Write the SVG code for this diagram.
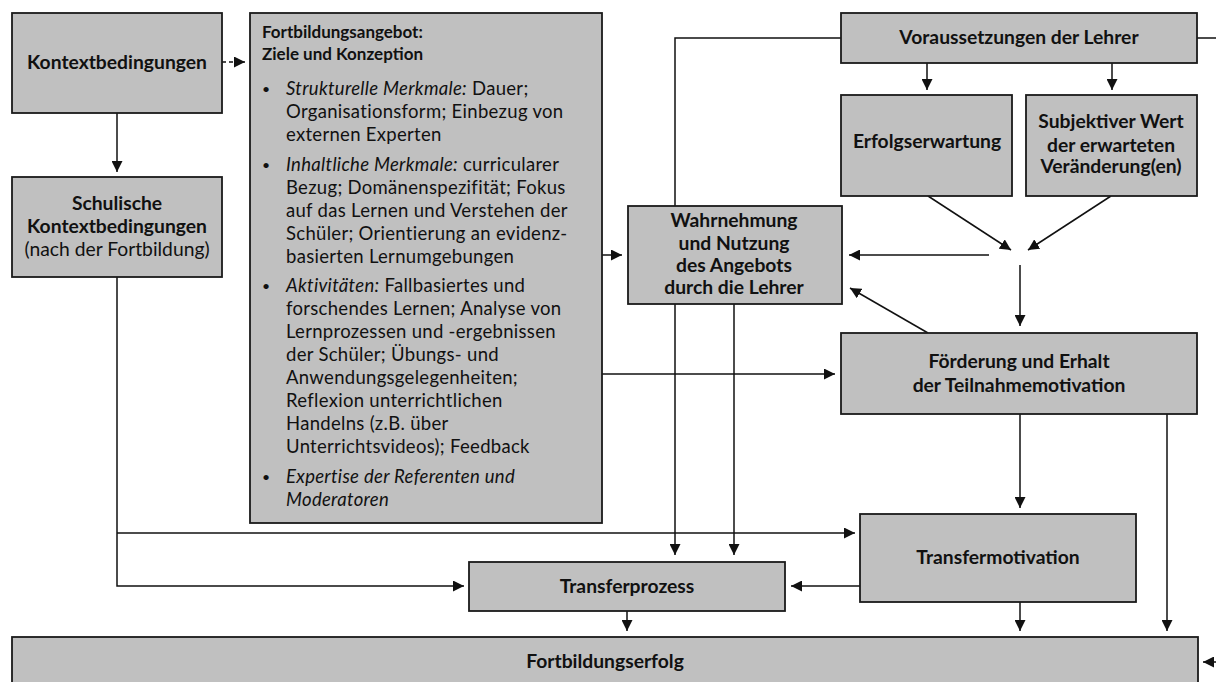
<svg xmlns="http://www.w3.org/2000/svg" width="1216" height="682" viewBox="0 0 1216 682">
<style>
.box{fill:#c0c0c0;stroke:#1a1a1a;stroke-width:1.8}
.lbl{font-family:Lato,"Liberation Sans",sans-serif;font-weight:bold;font-size:19.3px;fill:#111;text-anchor:middle}
.reg{font-weight:normal}
.body{font-family:Lato,"Liberation Sans",sans-serif;font-size:18.5px;letter-spacing:0.3px;fill:#111}
.ttl{font-weight:bold;font-size:17px;letter-spacing:0}
.it{font-style:italic}
.bul{font-size:14px}
.con{fill:none;stroke:#111;stroke-width:1.5}
</style>
<defs>
<marker id="ah" markerUnits="userSpaceOnUse" markerWidth="11" markerHeight="11" refX="10" refY="5" orient="auto" viewBox="0 0 10 10">
<path d="M0,0 L10,5 L0,10 z" fill="#111"/>
</marker>
</defs>
<g id="connectors">
<line class="con" x1="117" y1="113" x2="117" y2="172" marker-end="url(#ah)"/>
<line class="con" x1="222" y1="62" x2="245" y2="62" stroke-dasharray="4,3" marker-end="url(#ah)"/>
<polyline class="con" points="117,277 117,586 464,586" marker-end="url(#ah)"/>
<polyline class="con" points="117,533 855,533" marker-end="url(#ah)"/>
<line class="con" x1="602" y1="255" x2="622" y2="255" marker-end="url(#ah)"/>
<line class="con" x1="602" y1="374" x2="835" y2="374" marker-end="url(#ah)"/>
<polyline class="con" points="841,38 675,38 675,555" marker-end="url(#ah)"/>
<line class="con" x1="734" y1="304" x2="734" y2="555" marker-end="url(#ah)"/>
<line class="con" x1="927" y1="63" x2="927" y2="90" marker-end="url(#ah)"/>
<line class="con" x1="1112" y1="63" x2="1112" y2="90" marker-end="url(#ah)"/>
<line class="con" x1="928" y1="196" x2="1011" y2="250" marker-end="url(#ah)"/>
<line class="con" x1="1111" y1="196" x2="1028" y2="250" marker-end="url(#ah)"/>
<line class="con" x1="989" y1="255" x2="849" y2="255" marker-end="url(#ah)"/>
<line class="con" x1="1020" y1="265" x2="1020" y2="326" marker-end="url(#ah)"/>
<line class="con" x1="928" y1="333" x2="850" y2="288" marker-end="url(#ah)"/>
<line class="con" x1="1020" y1="414" x2="1020" y2="508" marker-end="url(#ah)"/>
<line class="con" x1="1167" y1="414" x2="1167" y2="631" marker-end="url(#ah)"/>
<line class="con" x1="860" y1="586" x2="791" y2="586" marker-end="url(#ah)"/>
<line class="con" x1="627" y1="611" x2="627" y2="631" marker-end="url(#ah)"/>
<line class="con" x1="1020" y1="602" x2="1020" y2="631" marker-end="url(#ah)"/>
<polyline class="con" points="1197,38 1224,38 1224,662 1203,662" marker-end="url(#ah)"/>
</g>
<g id="kontext">
<rect class="box" x="12" y="13" width="210" height="100"/>
<text class="lbl" x="117" y="68.5">Kontextbedingungen</text>
</g>
<g id="schulisch">
<rect class="box" x="12" y="177" width="210" height="100"/>
<text class="lbl" x="117" y="210">Schulische</text>
<text class="lbl" x="117" y="233">Kontextbedingungen</text>
<text class="lbl reg" x="117" y="256">(nach der Fortbildung)</text>
</g>
<g id="angebot">
<rect class="box" x="250" y="13" width="352" height="510"/>
<text class="body ttl" x="262" y="38">Fortbildungsangebot:</text>
<text class="body ttl" x="262" y="60">Ziele und Konzeption</text>
<text class="body bul" x="262" y="94">•</text>
<text class="body" x="286" y="95"><tspan class="it">Strukturelle Merkmale:</tspan> Dauer;</text>
<text class="body" x="286" y="118">Organisationsform; Einbezug von</text>
<text class="body" x="286" y="141">externen Experten</text>
<text class="body bul" x="262" y="169.5">•</text>
<text class="body" x="286" y="170.5"><tspan class="it">Inhaltliche Merkmale:</tspan> curricularer</text>
<text class="body" x="286" y="193.5">Bezug; Domänenspezifität; Fokus</text>
<text class="body" x="286" y="216.5">auf das Lernen und Verstehen der</text>
<text class="body" x="286" y="239.5">Schüler; Orientierung an evidenz-</text>
<text class="body" x="286" y="262.5">basierten Lernumgebungen</text>
<text class="body bul" x="262" y="291">•</text>
<text class="body" x="286" y="292"><tspan class="it">Aktivitäten:</tspan> Fallbasiertes und</text>
<text class="body" x="286" y="315">forschendes Lernen; Analyse von</text>
<text class="body" x="286" y="338">Lernprozessen und -ergebnissen</text>
<text class="body" x="286" y="361">der Schüler; Übungs- und</text>
<text class="body" x="286" y="384">Anwendungsgelegenheiten;</text>
<text class="body" x="286" y="407">Reflexion unterrichtlichen</text>
<text class="body" x="286" y="430">Handelns (z.B. über</text>
<text class="body" x="286" y="453">Unterrichtsvideos); Feedback</text>
<text class="body bul" x="262" y="481.5">•</text>
<text class="body it" x="286" y="482.5">Expertise der Referenten und</text>
<text class="body it" x="286" y="505.5">Moderatoren</text>
</g>
<g id="voraussetzungen">
<rect class="box" x="841" y="13" width="356" height="50"/>
<text class="lbl" x="1019" y="44">Voraussetzungen der Lehrer</text>
</g>
<g id="erfolgserwartung">
<rect class="box" x="841" y="95" width="171" height="101"/>
<text class="lbl" x="927" y="148">Erfolgserwartung</text>
</g>
<g id="subjektiver-wert">
<rect class="box" x="1026" y="95" width="171" height="101"/>
<text class="lbl" x="1111" y="128">Subjektiver Wert</text>
<text class="lbl" x="1111" y="151.5">der erwarteten</text>
<text class="lbl" x="1111" y="173">Veränderung(en)</text>
</g>
<g id="wahrnehmung">
<rect class="box" x="628" y="206" width="214" height="98"/>
<text class="lbl" x="734" y="226.5">Wahrnehmung</text>
<text class="lbl" x="734" y="249.5">und Nutzung</text>
<text class="lbl" x="734" y="272">des Angebots</text>
<text class="lbl" x="734" y="294">durch die Lehrer</text>
</g>
<g id="foerderung">
<rect class="box" x="841" y="333" width="356" height="81"/>
<text class="lbl" x="1019" y="368">Förderung und Erhalt</text>
<text class="lbl" x="1019" y="391.5">der Teilnahmemotivation</text>
</g>
<g id="transfermotivation">
<rect class="box" x="860" y="514" width="276" height="88"/>
<text class="lbl" x="998" y="564">Transfermotivation</text>
</g>
<g id="transferprozess">
<rect class="box" x="469" y="562" width="316" height="49"/>
<text class="lbl" x="627" y="592.5">Transferprozess</text>
</g>
<g id="fortbildungserfolg">
<rect class="box" x="12" y="637" width="1186" height="60"/>
<text class="lbl" x="605" y="668">Fortbildungserfolg</text>
</g>
</svg>
